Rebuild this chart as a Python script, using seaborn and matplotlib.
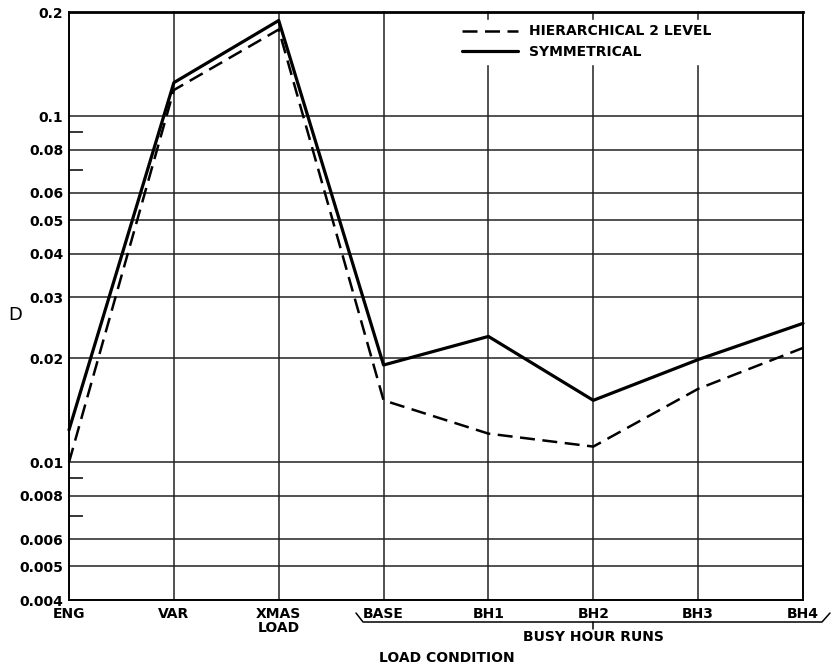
import matplotlib
matplotlib.use("Agg")
import matplotlib.pyplot as plt
import seaborn as sns
import pandas as pd
import numpy as np
from matplotlib.lines import Line2D

categories = ["ENG", "VAR", "XMAS\nLOAD", "BASE", "BH1", "BH2", "BH3", "BH4"]
symmetrical = [0.0124, 0.125, 0.189, 0.0191, 0.0231, 0.0151, 0.0198, 0.0252]
hierarchical = [0.0100, 0.119, 0.178, 0.0151, 0.0121, 0.0111, 0.0163, 0.0214]
series_names = ["HIERARCHICAL 2 LEVEL", "SYMMETRICAL"]
ytick_vals = [0.2, 0.1, 0.08, 0.06, 0.05, 0.04, 0.03, 0.02, 0.01, 0.008, 0.006, 0.005, 0.004]
ytick_labels = ["0.2", "0.1", "0.08", "0.06", "0.05", "0.04", "0.03", "0.02", "0.01",
                "0.008", "0.006", "0.005", "0.004"]
minor_vals = [0.09, 0.07, 0.009, 0.007]

sns.set_style("white")
plt.rcParams['font.family'] = ['DejaVu Sans']
plt.rcParams['text.color'] = 'black'
plt.rcParams['xtick.color'] = 'black'
plt.rcParams['ytick.color'] = 'black'

pos = list(range(len(categories)))
df = pd.DataFrame({
    "x": pos * 2,
    "D": hierarchical + symmetrical,
    "series": [series_names[0]] * len(pos) + [series_names[1]] * len(pos),
})

fig = plt.figure(figsize=(8.32, 6.67), dpi=100)
ax = fig.add_axes([69 / 832, 1 - 600 / 667, (803 - 69) / 832, (600 - 12) / 667])

ax.set_yscale("log")
ax.set_ylim(0.004, 0.2)
ax.set_xlim(0, len(categories) - 1)

# grid
for v in ytick_vals[1:-1]:
    ax.axhline(v, color="#222222", lw=1.1, zorder=1)
for x in pos[1:-1]:
    ax.axvline(x, color="#222222", lw=1.1, zorder=1)

sns.lineplot(data=df, x="x", y="D", hue="series", style="series",
             hue_order=series_names, style_order=series_names,
             palette=["black", "black"],
             dashes={series_names[0]: (6, 3), series_names[1]: ""},
             size="series", sizes={series_names[0]: 1.8, series_names[1]: 2.3},
             ax=ax, legend=False, zorder=3)
for ln in ax.lines:
    ln.set_clip_on(False)

ax.set_yticks(ytick_vals)
ax.set_yticklabels(ytick_labels, fontsize=10, fontweight="bold", color="black")
ax.yaxis.set_minor_locator(matplotlib.ticker.FixedLocator(minor_vals))
ax.yaxis.set_minor_formatter(matplotlib.ticker.NullFormatter())
ax.tick_params(axis="y", which="major", length=0, pad=4)
ax.tick_params(axis="y", which="minor", left=True, direction="in", length=10, width=1.1, color="black")
ax.set_xticks(pos)
ax.set_xticklabels(categories, fontsize=10, fontweight="bold", linespacing=1.0, color="black")
ax.tick_params(axis="x", length=0, pad=5)
ax.set_xlabel("")
ax.set_ylabel("")

for s in ["left", "bottom", "right"]:
    ax.spines[s].set_color("black")
    ax.spines[s].set_linewidth(1.4)
ax.spines["top"].set_color("black")
ax.spines["top"].set_linewidth(2.0)

# legend
handles = [Line2D([], [], color="black", lw=1.8, dashes=(6, 3)),
           Line2D([], [], color="black", lw=2.3)]
leg = ax.legend(handles, series_names, loc="upper left", bbox_to_anchor=(0.530, 0.986),
                borderaxespad=0.0, frameon=True, handlelength=4.0, fontsize=10,
                borderpad=0.3, labelspacing=0.5, handletextpad=0.8)
leg.get_frame().set_facecolor("white")
leg.get_frame().set_edgecolor("white")
leg.get_frame().set_alpha(1)
for t in leg.get_texts():
    t.set_fontweight("bold")
    t.set_color("black")
leg.set_zorder(5)

# bracket for busy hour runs
def fx(px):
    return px / 832
def fy(py):
    return 1 - py / 667
bx = [356, 363, 822, 830]
by = [613, 622, 622, 613]
fig.add_artist(Line2D([fx(v) for v in bx], [fy(v) for v in by], color="black", lw=1.1))
fig.add_artist(Line2D([fx(593), fx(593)], [fy(622), fy(629)], color="black", lw=1.1))
fig.text(fx(593), fy(637), "BUSY HOUR RUNS", ha="center", va="center", fontsize=10, fontweight="bold")
fig.text(fx(447), fy(658), "LOAD CONDITION", ha="center", va="center", fontsize=10, fontweight="bold")
fig.text(fx(15), fy(315), "D", ha="center", va="center", fontsize=13)

fig.savefig("out.png", dpi=100)
